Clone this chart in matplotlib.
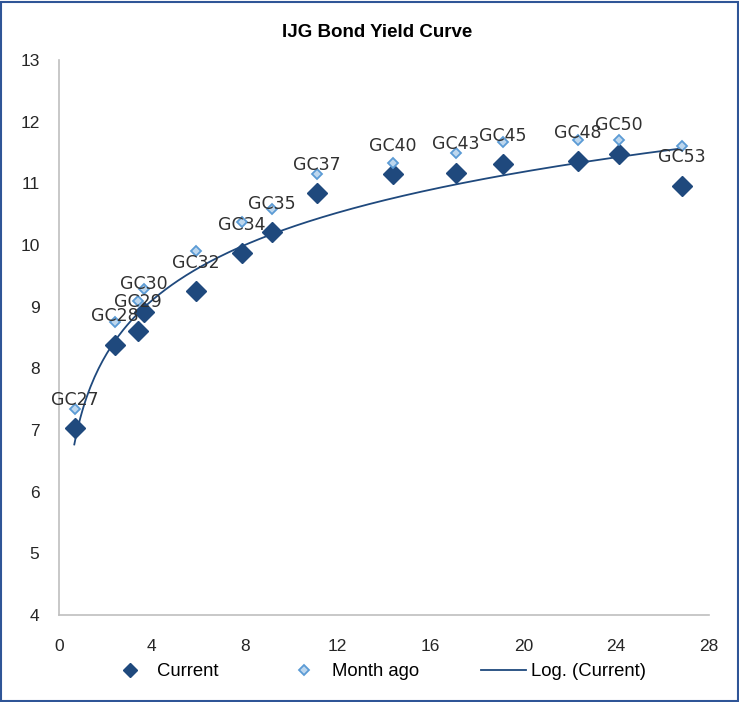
import numpy as np
import matplotlib
matplotlib.use("Agg")
import matplotlib.pyplot as plt
from matplotlib.patches import Rectangle

bonds = ["GC27", "GC28", "GC29", "GC30", "GC32", "GC34", "GC35", "GC37",
         "GC40", "GC43", "GC45", "GC48", "GC50", "GC53"]
term = [0.69, 2.41, 3.40, 3.66, 5.90, 7.88, 9.18, 11.12, 14.39, 17.10, 19.13, 22.36, 24.13, 26.84]
current = [7.03, 8.38, 8.61, 8.91, 9.25, 9.87, 10.21, 10.84, 11.15, 11.17, 11.31, 11.36, 11.48, 10.96]
month_ago = [7.34, 8.75, 9.09, 9.29, 9.90, 10.37, 10.58, 11.15, 11.33, 11.49, 11.67, 11.70, 11.70, 11.61]
xticks = [0, 4, 8, 12, 16, 20, 24, 28]
yticks = [4, 5, 6, 7, 8, 9, 10, 11, 12, 13]

dark = "#1F497D"
light_fill = "#BDD7EE"
light_edge = "#5B9BD5"
tick_font = "Liberation Sans"

fig = plt.figure(figsize=(7.39, 7.02), dpi=100)
ax = fig.add_axes([0.0798, 0.1239, 0.8796, 0.7906])

ax.plot(term, current, linestyle="none", marker="D", markersize=10,
        color=dark, label="Current", zorder=3)
ax.plot(term, month_ago, linestyle="none", marker="D", markersize=5.5,
        markerfacecolor=light_fill, markeredgecolor=light_edge, markeredgewidth=1.3,
        label="Month ago", zorder=4)

t = np.array(term)
a, b = np.polyfit(np.log(t), np.array(current), 1)
xs = np.linspace(t.min() - 0.03, t.max(), 300)
ax.plot(xs, a * np.log(xs) + b, color=dark, linewidth=1.3, label="Log. (Current)", zorder=2)

for name, x, y in zip(bonds, term, current):
    ax.annotate(name, (x, y), xytext=(0, 14), textcoords="offset points",
                ha="center", va="bottom", fontsize=12.5, color="#303030",
                family="DejaVu Sans", zorder=5)

ax.set_xlim(0, 28)
ax.set_ylim(4, 13)
ax.set_xticks(xticks)
ax.set_yticks(yticks)
for lab in ax.get_xticklabels() + ax.get_yticklabels():
    lab.set_fontfamily(tick_font)
    lab.set_fontsize(12.5)
    lab.set_color("#262626")
ax.tick_params(length=0)
ax.tick_params(axis="x", pad=17)
ax.tick_params(axis="y", pad=14)
for s in ["top", "right"]:
    ax.spines[s].set_visible(False)
for s in ["left", "bottom"]:
    ax.spines[s].set_color("#BFBFBF")
    ax.spines[s].set_linewidth(1.2)

fig.text(0.51, 0.953, "IJG Bond Yield Curve", ha="center", va="center",
         fontsize=13.5, fontweight="bold", family=tick_font, color="#000000")

leg = fig.legend(loc="center", bbox_to_anchor=(0.51, 0.043), ncol=3, frameon=False,
                 prop={"family": tick_font, "size": 13.3}, handlelength=2.4,
                 columnspacing=3.4, handletextpad=0.3)
hs = leg.legend_handles
hs[0].set_markersize(7.5)
hs[1].set_markersize(5)

fig.patches.append(Rectangle((0.002, 0.002), 0.996, 0.995, transform=fig.transFigure,
                             fill=False, edgecolor="#2F5597", linewidth=1.5))

fig.savefig("out.png", dpi=100)
